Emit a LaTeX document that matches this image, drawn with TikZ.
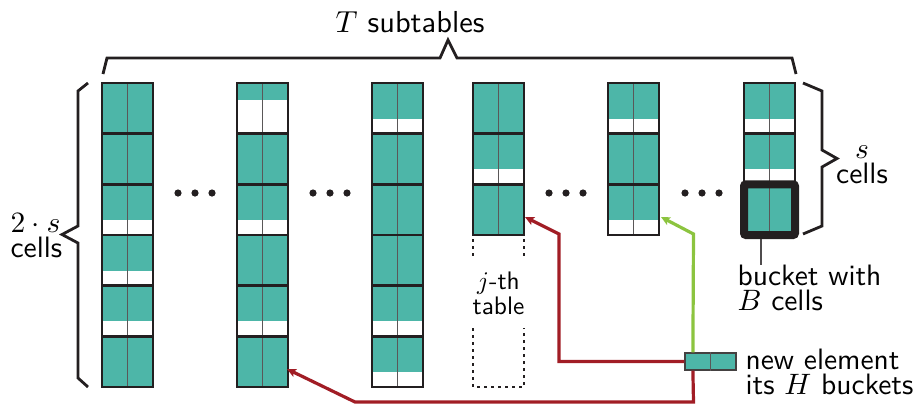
\documentclass[tikz,border=0pt]{standalone}
\usetikzlibrary{arrows.meta}
\definecolor{cellfill}{HTML}{4DB6A8}
\definecolor{inkdark}{HTML}{231F20}
\definecolor{linkred}{HTML}{A11D25}
\definecolor{linkgreen}{HTML}{8CC43F}
\begin{document}
\begin{tikzpicture}[x=1pt,y=-1pt,
  cellframe/.style={draw=inkdark,line width=2.4pt},
  divider/.style={draw=inkdark!75,line width=1pt},
  bracepath/.style={draw=inkdark,line width=2.8pt,line join=miter},
  lbl/.style={font=\sffamily\fontsize{10}{8.6}\selectfont,scale=2.95,inner sep=0pt,align=left},
  link/.style={line width=3.2pt,line join=miter,-{Stealth[length=9pt,width=8.5pt,inset=2pt]}},
  dotgap/.style={draw=inkdark,line width=1.8pt,dash pattern=on 3pt off 4pt},
  dotmark/.style={fill=inkdark}]
\useasboundingbox (0,0) rectangle (916,405);

% the subtables: x of left edge / white height at the bottom of each cell
\foreach \cx/\cells in {102/{0,0,15,15,15,0},
                        237/{34,0,15,0,15,0},
                        372/{15,0,0,0,15,15},
                        473/{0,15,0},
                        608/{15,0,15},
                        744/{15,15,0}}{
  \foreach \w [count=\i from 0] in \cells {
    \pgfmathsetmacro\yt{83+\i*50.67}
    \fill[cellfill] (\cx,\yt) rectangle ++(51,50.67);
    \fill[white] (\cx,\yt+50.67-\w) rectangle ++(51,\w);
    \draw[divider] (\cx+25.5,\yt) -- ++(0,50.67);
    \draw[cellframe] (\cx,\yt) rectangle ++(51,50.67);
  }
}

% missing part of the j-th table
\draw[dotgap] (473,239) -- (473,258);
\draw[dotgap] (524,239) -- (524,258);
\draw[dotgap] (473,328) -- (473,387) -- (524,387) -- (524,328);
\node[lbl,scale=0.86,align=center,anchor=north] (jth) at (498.5,271) {$j$-th\\table};

% ellipses between subtables
\foreach \mx in {195,330,566,702}{
  \fill[dotmark] (\mx-17,193) circle (3.6);
  \fill[dotmark] (\mx,193) circle (3.6);
  \fill[dotmark] (\mx+17,193) circle (3.6);
}

% a bucket
\node[draw=inkdark,line width=8pt,rounded corners=2pt,minimum width=51pt,
      minimum height=50.67pt,inner sep=0pt] (bucket) at (769.5,209.67) {};
\coordinate (bucketlbl) at (761,265);
\draw[draw=inkdark!80,line width=1.1pt] ([xshift=-8.5pt]bucket.south) -- (bucketlbl);
\node[lbl,anchor=north west] (bucketText) at (737,264) {bucket with\\$B$ cells};

% braces
\draw[bracepath] (103,74) -- (107,58) -- (440,58) -- (448,40) -- (457,58)
  -- (792,58) -- (796,74);
\node[lbl,scale=1.03,anchor=base] (title) at (410,32) {$T$ subtables};

\draw[bracepath] (88,83) -- (78,91) -- (78,226) -- (62,234.5) -- (78,243)
  -- (78,378) -- (88,387);
\node[lbl,anchor=north west] (twos) at (10,213) {$2\cdot s$\\cells};

\draw[bracepath] (803,83) -- (822,91) -- (822,150) -- (837,158.5) -- (822,167)
  -- (822,226) -- (803,234);
\node[lbl,align=center,anchor=north] (ss) at (862,145) {$s$\\cells};

% the new element and its buckets
\node[draw=inkdark!85,line width=1.2pt,fill=cellfill,minimum width=51pt,
      minimum height=17pt,inner sep=0pt] (newel) at (710.5,361.5) {};
\draw[divider] (newel.north) -- (newel.south);
\node[lbl,anchor=north west] (newText) at (745,348) {new element\\its $H$ buckets};

\coordinate (hitA) at (287,369);
\coordinate (hitB) at (525,217);
\coordinate (hitC) at (661,217);
\coordinate (bendA1) at (693.5,402);
\coordinate (bendA2) at (355,402);
\coordinate (bendB) at (559,234);
\coordinate (bendC) at (693.5,234);

\draw[link,linkred] ([xshift=8.5pt]newel.south west) -- (bendA1) -- (bendA2) -- (hitA);
\draw[link,linkred] (newel.west) -| (bendB) -- (hitB);
\draw[link,linkgreen] ([xshift=8.5pt]newel.north west) -- (bendC) -- (hitC);
\end{tikzpicture}
\end{document}
